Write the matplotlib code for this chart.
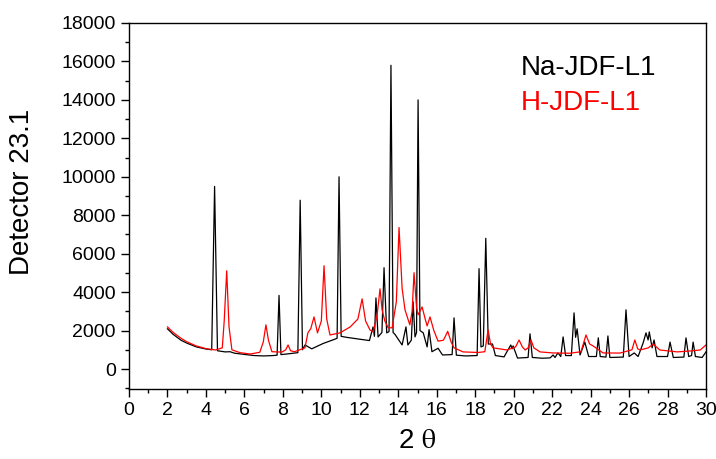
import matplotlib
matplotlib.use("Agg")
import matplotlib.pyplot as plt
from matplotlib.ticker import MultipleLocator

plt.rcParams['font.family'] = ['Liberation Sans', 'DejaVu Sans']
plt.rcParams['mathtext.fontset'] = 'stix'

# Na-JDF-L1 (black) pattern
na_x = [2.0, 2.3, 2.7, 3.0, 3.5, 4.0, 4.3, 4.45, 4.6, 5.0, 5.25, 5.5, 6.0, 6.5, 7.0, 7.5,
        7.7, 7.8, 7.9, 8.2, 8.78, 8.9, 9.02, 9.15, 9.5, 10.1, 10.7, 10.82, 10.92, 11.03,
        11.3, 12.0, 12.5, 12.69, 12.76, 12.84, 12.95, 13.15, 13.26, 13.4, 13.52, 13.62,
        13.73, 13.83, 14.2, 14.4, 14.5, 14.68, 14.77, 14.87, 14.95, 15.03, 15.13, 15.3,
        15.5, 15.6, 15.75, 16.07, 16.3, 16.8, 16.9, 17.02, 17.5, 18.1, 18.2, 18.3, 18.42,
        18.55, 18.68, 18.9, 19.05, 19.5, 19.85, 19.92, 19.97, 20.2, 20.75, 20.85, 20.97,
        21.5, 21.9, 22.05, 22.15, 22.3, 22.45, 22.57, 22.7, 23.0, 23.14, 23.22, 23.3,
        23.45, 23.7, 23.9, 24.3, 24.4, 24.5, 24.8, 24.9, 25.0, 25.7, 25.84, 26.0, 26.27,
        26.47, 26.73, 26.88, 26.99, 27.05, 27.2, 27.3, 27.45, 28.0, 28.13, 28.3, 28.85,
        28.96, 29.1, 29.25, 29.33, 29.45, 29.8, 30.0]
na_y = [2090, 1800, 1500, 1350, 1150, 1040, 1000, 9500, 950, 890, 900, 820, 760, 700, 680, 700,
        720, 3830, 750, 780, 850, 8780, 1000, 1250, 1050, 1330, 1550, 1600, 10000, 1700,
        1650, 1550, 1480, 2190, 1700, 3700, 1670, 1900, 5270, 1880, 1950, 15800,
        1900, 1800, 1250, 2190, 1250, 1500, 3500, 1670, 1900, 14000, 2000, 1880,
        1150, 2050, 900, 1080, 730, 750, 2660, 720, 680, 700, 5220, 1150, 1200,
        6800, 1300, 1300, 700, 630, 1250, 1050, 1200, 570, 600, 1830, 600,
        560, 580, 730, 600, 835, 650, 1670, 700, 700, 2920, 1650, 2090,
        730, 1400, 650, 650, 1620, 650, 620, 1720, 600, 620, 3080, 650, 835,
        650, 1350, 1880, 1510, 1930, 1100, 1510, 650, 650, 1400, 600, 620,
        1620, 650, 700, 1400, 650, 600, 890]

# H-JDF-L1 (red) pattern
h_x = [2.0, 2.3, 2.7, 3.0, 3.5, 4.0, 4.5, 4.85, 4.95, 5.08, 5.2, 5.35, 5.77, 6.3, 6.8, 6.98,
       7.12, 7.25, 7.43, 7.95, 8.15, 8.27, 8.4, 8.6, 9.15, 9.3, 9.45, 9.62, 9.8, 10.0,
       10.14, 10.28, 10.45, 10.97, 11.5, 11.9, 12.12, 12.3, 12.53, 12.7, 12.9, 13.05,
       13.16, 13.3, 13.47, 13.68, 13.9, 14.04, 14.2, 14.35, 14.6, 14.72, 14.82, 14.95,
       15.03, 15.24, 15.4, 15.5, 15.65, 15.85, 16.07, 16.35, 16.57, 16.75, 16.9, 17.37,
       18.15, 18.5, 18.67, 18.8, 18.93, 19.65, 20.1, 20.28, 20.45, 20.6, 20.75, 20.9,
       21.05, 21.37, 22.05, 22.93, 23.5, 23.76, 23.95, 24.13, 24.65, 25.53, 26.15, 26.3,
       26.45, 26.57, 27.0, 27.25, 27.6, 28.5, 29.2, 29.7, 30.0]
h_y = [2190, 1900, 1600, 1420, 1200, 1060, 990, 1100, 2500, 5110, 2200, 1000, 850, 780, 870, 1400,
       2300, 1500, 900, 880, 1000, 1250, 950, 900, 1100, 1880, 2100, 2710, 1880, 2500,
       5370, 2600, 1770, 1880, 2190, 2600, 3650, 2500, 2030, 1930, 2800, 4170,
       3080, 2500, 2150, 2140, 3500, 7360, 4200, 3080, 2300, 3000, 5010, 3200,
       2820, 3230, 2600, 2240, 2710, 2000, 1450, 1500, 1960, 1400, 1100, 890,
       860, 900, 2030, 1300, 1100, 990, 1150, 1510, 1150, 990, 1100, 1510,
       1100, 890, 835, 820, 900, 1770, 1300, 1200, 835, 830, 1000, 1510,
       1050, 990, 1100, 1300, 990, 890, 940, 990, 1250]

series_labels = ["Na-JDF-L1", "H-JDF-L1"]
series_colors = ["black", "red"]
x_ticks = list(range(0, 31, 2))
y_ticks = list(range(0, 18001, 2000))

W, H = 716, 459
fig = plt.figure(figsize=(W / 100, H / 100), dpi=100)
ax = fig.add_axes([129 / W, (H - 389) / H, (706 - 129) / W, (389 - 23) / H])

ax.plot(na_x, na_y, color=series_colors[0], lw=0.9)
ax.plot(h_x, h_y, color=series_colors[1], lw=0.9)

ax.set_xlim(0, 30)
ax.set_ylim(-1040, 18000)
ax.set_xticks(x_ticks)
ax.set_yticks(y_ticks)
ax.xaxis.set_minor_locator(MultipleLocator(1))
ax.yaxis.set_minor_locator(MultipleLocator(1000))
ax.tick_params(which='major', direction='out', length=6, width=1, labelsize=14,
               top=False, right=False)
ax.tick_params(which='minor', direction='out', length=3, width=1, top=False, right=False)
for s in ax.spines.values():
    s.set_linewidth(1.0)

fig.text(22 / W, 1 - 192 / H, "Detector 23.1", rotation=90, ha='center', va='center', fontsize=20)
fig.text(417 / W, 1 - 441 / H, "2 $\\mathrm{\\theta}$", ha='center', va='center', fontsize=20)

fig.text(521 / W, 1 - 68 / H, series_labels[0], color=series_colors[0], ha='left', va='center', fontsize=20)
fig.text(521 / W, 1 - 103 / H, series_labels[1], color=series_colors[1], ha='left', va='center', fontsize=20)

fig.savefig("out.png", dpi=100)
